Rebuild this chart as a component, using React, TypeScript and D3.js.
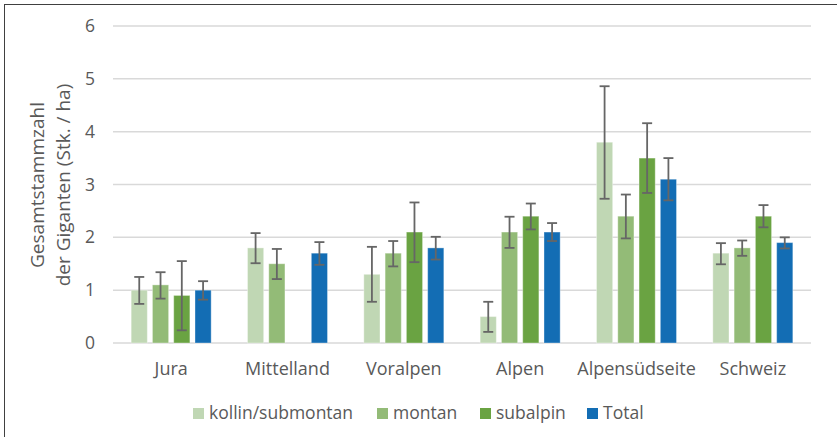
import React, { useEffect, useRef } from "react";
import * as d3 from "d3";

const categories = ["Jura", "Mittelland", "Voralpen", "Alpen", "Alpensüdseite", "Schweiz"];
const seriesNames = ["kollin/submontan", "montan", "subalpin", "Total"];
const seriesColors = ["#c0d7b4", "#93bb77", "#6aa342", "#136db4"];

const kollin = [1.0, 1.8, 1.3, 0.5, 3.8, 1.7];
const kollinLow = [0.74, 1.51, 0.78, 0.21, 2.73, 1.49];
const kollinHigh = [1.25, 2.08, 1.82, 0.78, 4.86, 1.89];

const montan = [1.1, 1.5, 1.7, 2.1, 2.4, 1.8];
const montanLow = [0.84, 1.21, 1.45, 1.8, 1.98, 1.65];
const montanHigh = [1.34, 1.78, 1.93, 2.39, 2.81, 1.94];

const subalpin = [0.9, null, 2.1, 2.4, 3.5, 2.4];
const subalpinLow = [0.24, null, 1.53, 2.15, 2.84, 2.19];
const subalpinHigh = [1.55, null, 2.66, 2.64, 4.16, 2.61];

const total = [1.0, 1.7, 1.8, 2.1, 3.1, 1.9];
const totalLow = [0.82, 1.48, 1.58, 1.93, 2.7, 1.79];
const totalHigh = [1.17, 1.91, 2.01, 2.27, 3.5, 2.0];

const yTicks = [0, 1, 2, 3, 4, 5, 6];

const FONT = "Open Sans, sans-serif";
const TEXT = "#595959";

const App = () => {
  const svgRef = useRef<SVGSVGElement>(null);

  useEffect(() => {
    const width = 837;
    const height = 437;
    const plot = { left: 113, right: 811, top: 26, bottom: 343 };

    const svg = d3.select(svgRef.current);
    svg.selectAll("*").remove();

    // outer frame
    svg.append("rect")
      .attr("x", 4.5).attr("y", 4.5)
      .attr("width", width).attr("height", height)
      .attr("fill", "white")
      .attr("stroke", "#404040")
      .attr("stroke-width", 1);

    const values = [kollin, montan, subalpin, total];
    const lows = [kollinLow, montanLow, subalpinLow, totalLow];
    const highs = [kollinHigh, montanHigh, subalpinHigh, totalHigh];

    const x = d3.scaleBand().domain(categories).range([plot.left, plot.right]).padding(0);
    const groupWidth = 80;
    const xs = d3.scaleBand<number>()
      .domain(d3.range(seriesNames.length))
      .range([0, groupWidth])
      .paddingInner(0.24);
    const y = d3.scaleLinear().domain([0, 6]).range([plot.bottom, plot.top]);

    // gridlines
    svg.append("g")
      .selectAll("line")
      .data(yTicks)
      .enter().append("line")
      .attr("x1", plot.left).attr("x2", plot.right)
      .attr("y1", d => y(d)).attr("y2", d => y(d))
      .attr("stroke", "#d9d9d9")
      .attr("stroke-width", 1.5);

    // y tick labels
    svg.append("g")
      .selectAll("text")
      .data(yTicks)
      .enter().append("text")
      .attr("x", 95)
      .attr("y", d => y(d))
      .attr("dy", "0.35em")
      .attr("text-anchor", "end")
      .attr("font-family", FONT)
      .attr("font-size", 17.5)
      .attr("fill", TEXT)
      .text(d => d);

    // bars
    seriesNames.forEach((s, si) => {
      const g = svg.append("g");
      categories.forEach((c, ci) => {
        const v = values[si][ci];
        if (v == null) return;
        const bx = (x(c) as number) + (x.bandwidth() - groupWidth) / 2 + (xs(si) as number);
        g.append("rect")
          .attr("x", bx)
          .attr("y", y(v))
          .attr("width", xs.bandwidth())
          .attr("height", y(0) - y(v))
          .attr("fill", seriesColors[si])
          .attr("stroke", "rgba(255,255,255,0.35)")
          .attr("stroke-width", 1);
      });
    });

    // error bars
    seriesNames.forEach((s, si) => {
      const g = svg.append("g")
        .attr("stroke", "#666")
        .attr("stroke-width", 1.8);
      categories.forEach((c, ci) => {
        const lo = lows[si][ci];
        const hi = highs[si][ci];
        if (lo == null || hi == null) return;
        const cx = (x(c) as number) + (x.bandwidth() - groupWidth) / 2 + (xs(si) as number) + xs.bandwidth() / 2;
        g.append("line").attr("x1", cx).attr("x2", cx).attr("y1", y(lo)).attr("y2", y(hi));
        g.append("line").attr("x1", cx - 5).attr("x2", cx + 5).attr("y1", y(lo)).attr("y2", y(lo));
        g.append("line").attr("x1", cx - 5).attr("x2", cx + 5).attr("y1", y(hi)).attr("y2", y(hi));
      });
    });

    // category labels
    svg.append("g")
      .selectAll("text")
      .data(categories)
      .enter().append("text")
      .attr("x", d => (x(d) as number) + x.bandwidth() / 2)
      .attr("y", 369)
      .attr("dy", "0.35em")
      .attr("text-anchor", "middle")
      .attr("font-family", FONT)
      .attr("font-size", 18)
      .attr("fill", TEXT)
      .text(d => d);

    // y axis title
    const title = svg.append("text")
      .attr("transform", "translate(50,185) rotate(-90)")
      .attr("text-anchor", "middle")
      .attr("font-family", FONT)
      .attr("font-size", 19)
      .attr("fill", TEXT);
    title.append("tspan").attr("x", 0).attr("y", -13).attr("dy", "0.35em").text("Gesamtstammzahl");
    title.append("tspan").attr("x", 0).attr("y", 13).attr("dy", "0.35em").text("der Giganten (Stk. / ha)");

    // legend
    const legendX = [193, 377, 480, 587];
    const legend = svg.append("g");
    seriesNames.forEach((s, si) => {
      legend.append("rect")
        .attr("x", legendX[si]).attr("y", 408)
        .attr("width", 11).attr("height", 11)
        .attr("fill", seriesColors[si]);
      legend.append("text")
        .attr("x", legendX[si] + 16)
        .attr("y", 413)
        .attr("dy", "0.35em")
        .attr("font-family", FONT)
        .attr("font-size", 17.5)
        .attr("fill", TEXT)
        .text(s);
    });
  }, []);

  return (
    <svg
      ref={svgRef}
      width={837}
      height={437}
      style={{ position: "fixed", left: 0, top: 0, background: "white" }}
    />
  );
};

export default App;
